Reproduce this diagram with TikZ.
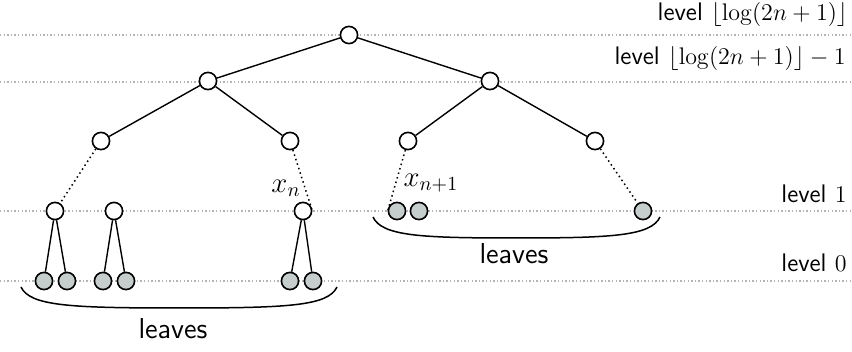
\documentclass[tikz,border=0pt]{standalone}
\usetikzlibrary{calc}
\definecolor{leafgray}{RGB}{197,206,204}
\definecolor{guide}{RGB}{180,180,180}
\begin{document}
\begin{tikzpicture}[x=0.5pt,y=-0.5pt,
  inner/.style={circle,draw=black,fill=white,line width=0.8pt,minimum size=8.6pt,inner sep=0pt},
  leaf/.style={circle,draw=black,fill=leafgray,line width=0.8pt,minimum size=8.6pt,inner sep=0pt},
  edge/.style={line width=0.7pt},
  dotedge/.style={line width=0.75pt,dash pattern=on 0.75pt off 1.6pt},
  guideline/.style={draw=guide,line width=0.7pt,dash pattern=on 0.7pt off 1.1pt},
  brace/.style={line width=0.75pt},
  levellabel/.style={font=\fontsize{12.7}{15}\selectfont\sffamily,inner sep=0pt},
  leaveslabel/.style={font=\fontsize{14.4}{17}\selectfont\sffamily,inner sep=0pt},
  xlabel/.style={font=\fontsize{14}{16}\selectfont,inner sep=0pt}]
\useasboundingbox (0,0) rectangle (852,352);

% level guide lines
\coordinate (g0l) at (0,35);   \coordinate (g0r) at (852,35);
\coordinate (g1l) at (0,82);   \coordinate (g1r) at (852,82);
\coordinate (g2l) at (0,211);  \coordinate (g2r) at (852,211);
\coordinate (g3l) at (0,281);  \coordinate (g3r) at (852,281);
\draw[guideline] (g0l) -- (g0r);
\draw[guideline] (g1l) -- (g1r);
\draw[guideline] (g2l) -- (g2r);
\draw[guideline] (g3l) -- (g3r);

% level labels
\node[levellabel,anchor=base east] (lvtop) at (848,21) {level $\lfloor\log(2n+1)\rfloor$};
\node[levellabel,anchor=base east] (lvsub) at (846,65) {level $\lfloor\log(2n+1)\rfloor-1$};
\node[levellabel,anchor=base east] (lvone) at (847,203) {level $1$};
\node[levellabel,anchor=base east] (lvzero) at (847,272) {level $0$};

% tree nodes
\node[inner] (r) at (349,35) {};
\node[inner] (a) at (208,81) {};
\node[inner] (b) at (490,81) {};
\node[inner] (a1) at (101,141) {};
\node[inner] (a2) at (290,141) {};
\node[inner] (b1) at (408,141) {};
\node[inner] (b2) at (595,141) {};
\node[inner] (w1) at (55,211) {};
\node[inner] (w2) at (114,211) {};
\node[inner] (w3) at (303,211) {};
\node[leaf] (h1) at (397,211) {};
\node[leaf] (h2) at (419,211) {};
\node[leaf] (h3) at (643,211) {};
\node[leaf] (f1) at (44,281) {};
\node[leaf] (f2) at (67,281) {};
\node[leaf] (f3) at (103,281) {};
\node[leaf] (f4) at (126,281) {};
\node[leaf] (f5) at (290,281) {};
\node[leaf] (f6) at (313,281) {};

% solid edges
\draw[edge] (r) -- (a);
\draw[edge] (r) -- (b);
\draw[edge] (a) -- (a1);
\draw[edge] (a) -- (a2);
\draw[edge] (b) -- (b1);
\draw[edge] (b) -- (b2);
\draw[edge] (w1) -- (f1);
\draw[edge] (w1) -- (f2);
\draw[edge] (w2) -- (f3);
\draw[edge] (w2) -- (f4);
\draw[edge] (w3) -- (f5);
\draw[edge] (w3) -- (f6);

% dotted paths
\draw[dotedge] (a1) -- (w1);
\draw[dotedge] (a2) -- (w3.east);
\draw[dotedge] (b1) -- (h1.west);
\draw[dotedge] (b2) -- (h3);

% labels of the two middle leaves
\node[xlabel] (xn) at (286,188) {$x_n$};
\node[xlabel] (xn1) at (431,183) {$x_{n+1}$};

% braces under the leaves
\coordinate (bl1) at (21,287);  \coordinate (bl2) at (337,287);
\draw[brace] (bl1) .. controls (30,306) and (70,308) .. (179,308)
                   .. controls (288,308) and (328,306) .. (bl2);
\coordinate (br1) at (373,217); \coordinate (br2) at (660,217);
\draw[brace] (br1) .. controls (382,236) and (420,238) .. (516,238)
                   .. controls (612,238) and (651,236) .. (br2);
\node[leaveslabel] (lvleft) at (173,329) {leaves};
\node[leaveslabel] (lvright) at (514,254) {leaves};
\end{tikzpicture}
\end{document}
